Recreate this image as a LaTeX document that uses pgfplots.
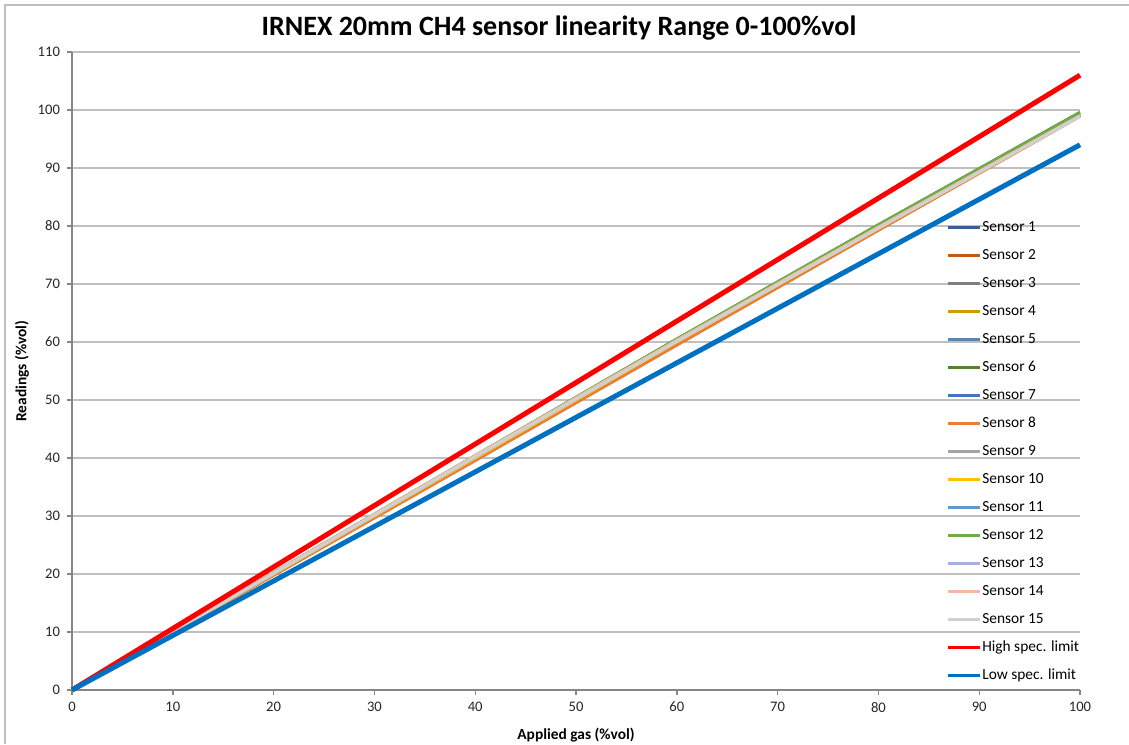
\documentclass[border=0pt]{standalone}
\usepackage{fontspec}
\setmainfont{Carlito}
\usepackage{pgfplots}
\pgfplotsset{compat=1.18}
\definecolor{s1}{HTML}{3F5C9A}
\definecolor{s2}{HTML}{C55A11}
\definecolor{s3}{HTML}{7F7F7F}
\definecolor{s4}{HTML}{CC9C00}
\definecolor{s5}{HTML}{5B84B1}
\definecolor{s6}{HTML}{548235}
\definecolor{s7}{HTML}{4472C4}
\definecolor{s8}{HTML}{ED7D31}
\definecolor{s9}{HTML}{A5A5A5}
\definecolor{s10}{HTML}{FFC000}
\definecolor{s11}{HTML}{5B9BD5}
\definecolor{s12}{HTML}{70AD47}
\definecolor{s13}{HTML}{A3B3DE}
\definecolor{s14}{HTML}{F4B9A3}
\definecolor{s15}{HTML}{D0D0D0}
\definecolor{hi}{HTML}{FF0000}
\definecolor{lo}{HTML}{0070C0}
\definecolor{gridc}{HTML}{BFBFBF}
\definecolor{axc}{HTML}{868686}
\begin{document}
\begin{tikzpicture}
\path[use as bounding box] (0,0) rectangle (564.5pt,372pt);
\draw[gridc, line width=0.7pt] (2.5pt,0) -- (2.5pt,369.5pt) -- (564.5pt,369.5pt);
\node[font=\bfseries\fontsize{14}{16}\selectfont, anchor=center] at (279.5pt,358pt) {IRNEX 20mm CH4 sensor linearity Range 0-100\%vol};
\begin{axis}[
  at={(36pt,27pt)}, anchor=south west,
  scale only axis, width=504pt, height=319pt,
  xmin=0, xmax=100, ymin=0, ymax=110,
  xtick={0,10,...,100}, ytick={0,10,...,110},
  axis x line*=bottom, axis y line*=left,
  axis line style={axc, line width=0.7pt, -},
  tick style={axc, line width=0.7pt},
  tick align=outside, major tick length=2.5pt,
  ymajorgrids, grid style={gridc, line width=0.75pt},
  /pgf/number format/assume math mode=true,
  ticklabel style={font=\fontsize{7.3}{8}\selectfont, text=black!85},
  xlabel={\bfseries Applied gas (\%vol)}, ylabel={\bfseries Readings (\%vol)},
  label style={font=\fontsize{7.7}{9}\selectfont},
  xlabel style={at={(axis description cs:0.5,0)}, anchor=north, yshift=-15.5pt},
  ylabel style={at={(axis description cs:0,0.5)}, anchor=south, yshift=18pt},
  legend style={at={(rel axis cs:0.861,0.7535)}, anchor=north west, draw=none, fill=none,
    font=\fontsize{7.7}{9}\selectfont, row sep=0pt,
    nodes={minimum height=14pt, inner sep=0.5pt}},
  legend cell align=left,
  legend image code/.code={\draw[#1, line width=1.5pt] (0pt,0pt) -- (16pt,0pt);},
  every axis plot/.append style={line width=1.5pt},
  clip=false,
]
\addplot[s1] coordinates {(0,0) (20,20.1) (40,40.1) (60,60.0) (80,79.6) (100,99.0)};
\addlegendentry{Sensor 1}
\addplot[s2] coordinates {(0,0) (20,19.8) (40,39.6) (60,59.5) (80,79.3) (100,99.0)};
\addlegendentry{Sensor 2}
\addplot[s3] coordinates {(0,0) (20,20.1) (40,40.2) (60,60.2) (80,79.8) (100,99.1)};
\addlegendentry{Sensor 3}
\addplot[s4] coordinates {(0,0) (20,20.0) (40,40.0) (60,59.9) (80,79.6) (100,99.0)};
\addlegendentry{Sensor 4}
\addplot[s5] coordinates {(0,0) (20,20.2) (40,40.3) (60,60.3) (80,79.9) (100,99.2)};
\addlegendentry{Sensor 5}
\addplot[s6] coordinates {(0,0) (20,20.2) (40,40.4) (60,60.5) (80,80.2) (100,99.6)};
\addlegendentry{Sensor 6}
\addplot[s7] coordinates {(0,0) (20,20.1) (40,40.2) (60,60.1) (80,79.7) (100,99.0)};
\addlegendentry{Sensor 7}
\addplot[s8] coordinates {(0,0) (20,19.8) (40,39.6) (60,59.5) (80,79.3) (100,98.9)};
\addlegendentry{Sensor 8}
\addplot[s9] coordinates {(0,0) (20,20.1) (40,40.2) (60,60.1) (80,79.7) (100,99.0)};
\addlegendentry{Sensor 9}
\addplot[s10] coordinates {(0,0) (20,20.0) (40,40.0) (60,60.0) (80,79.6) (100,99.0)};
\addlegendentry{Sensor 10}
\addplot[s11] coordinates {(0,0) (20,20.1) (40,40.2) (60,60.2) (80,79.8) (100,99.1)};
\addlegendentry{Sensor 11}
\addplot[s12] coordinates {(0,0) (20,20.2) (40,40.4) (60,60.5) (80,80.2) (100,99.5)};
\addlegendentry{Sensor 12}
\addplot[s13] coordinates {(0,0) (20,20.1) (40,40.2) (60,60.1) (80,79.7) (100,99.0)};
\addlegendentry{Sensor 13}
\addplot[s14] coordinates {(0,0) (20,20.2) (40,40.4) (60,60.3) (80,79.8) (100,99.0)};
\addlegendentry{Sensor 14}
\addplot[s15] coordinates {(0,0) (20,20.1) (40,40.2) (60,60.1) (80,79.6) (100,98.9)};
\addlegendentry{Sensor 15}
\addplot[hi, line width=2.5pt] coordinates {(0,0) (20,21.2) (40,42.4) (60,63.6) (80,84.8) (100,106)};
\addlegendentry{High spec. limit}
\addplot[lo, line width=2.5pt] coordinates {(0,0) (20,18.8) (40,37.6) (60,56.4) (80,75.2) (100,94)};
\addlegendentry{Low spec. limit}
\end{axis}
\end{tikzpicture}
\end{document}
